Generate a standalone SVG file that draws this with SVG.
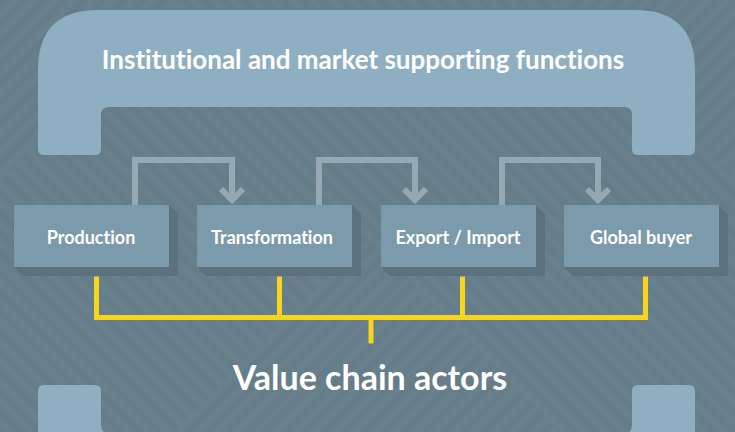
<svg xmlns="http://www.w3.org/2000/svg" width="735" height="432" viewBox="0 0 735 432">
  <defs>
    <!-- faint diagonal hatching for the backdrop -->
    <pattern id="hatchR" width="14" height="14" patternUnits="userSpaceOnUse" patternTransform="rotate(45)">
      <rect width="14" height="14" fill="#687f8c"/>
      <rect width="7" height="14" fill="#657c89"/>
    </pattern>
    <pattern id="hatchL" width="14" height="14" patternUnits="userSpaceOnUse" patternTransform="rotate(-45)">
      <rect width="14" height="14" fill="#687f8c"/>
      <rect width="7" height="14" fill="#657c89"/>
    </pattern>
    <style>
      .frame { fill: #8eafc2; }
      .box { fill: #7b9aab; }
      .box-shadow { fill: #5b717e; }
      .label { font-family: Lato, "Liberation Sans", sans-serif; font-weight: 700; fill: #ffffff; text-anchor: middle; font-variant-ligatures: none; font-feature-settings: "liga" 0; }
      .flow { fill: none; stroke: #96a8b2; stroke-width: 6; stroke-linejoin: miter; }
      .actor-link { fill: none; stroke: #f8d41a; stroke-width: 5; stroke-linecap: square; }
    </style>
  </defs>

  <!-- backdrop: chevron hatching -->
  <rect width="735" height="432" fill="url(#hatchR)"/>
  <polygon points="0,180 180,0 555,0 735,180 735,432 560,432 367,240 175,432 0,432" fill="url(#hatchL)"/>

  <!-- supporting functions frame (top) -->
  <g id="supporting-functions">
    <path class="frame" d="M38,155 L38,70 Q38,10 98,10 L635,10 Q695,10 695,70 L695,149 Q695,155 689,155 L638,155 Q632,155 632,149 L632,115 Q632,107 624,107 L109,107 Q101,107 101,115 L101,149 Q101,155 95,155 L44,155 Q38,155 38,149 Z"/>
    <text class="label" x="363" y="69" font-size="26">Institutional and market supporting functions</text>
  </g>

  <!-- lower frame, partly below the edge -->
  <g id="lower-frame">
    <path class="frame" d="M38,440 L38,391 Q38,385 44,385 L95,385 Q101,385 101,391 L101,425 Q101,433 109,433 L624,433 Q632,433 632,425 L632,391 Q632,385 638,385 L689,385 Q695,385 695,391 L695,440 Z"/>
  </g>

  <!-- flow connectors between actors -->
  <g id="connectors">
    <path class="flow" d="M135,205 L135,160 L232,160 L232,199"/>
    <polyline class="flow" points="221,189 232,200 243,189"/>
    <path class="flow" d="M319,205 L319,160 L415,160 L415,199"/>
    <polyline class="flow" points="404,189 415,200 426,189"/>
    <path class="flow" d="M502,205 L502,160 L598,160 L598,199"/>
    <polyline class="flow" points="587,189 598,200 609,189"/>

    <!-- bracket joining actors -->
    <path class="actor-link" d="M96.5,279 L96.5,317.5 L645.5,317.5 L645.5,279"/>
    <line class="actor-link" x1="279.5" y1="279" x2="279.5" y2="317"/>
    <line class="actor-link" x1="462.5" y1="279" x2="462.5" y2="317"/>
    <line class="actor-link" x1="371" y1="318" x2="371" y2="341"/>
  </g>

  <g id="production">
    <polygon class="box-shadow" points="169,205 178,214 178,276 23,276 14,267 169,267"/>
    <rect class="box" x="14" y="205" width="155" height="62"/>
    <text class="label" x="91" y="244" font-size="18">Production</text>
  </g>
  <g id="transformation">
    <polygon class="box-shadow" points="352,205 361,214 361,276 206,276 197,267 352,267"/>
    <rect class="box" x="197" y="205" width="155" height="62"/>
    <text class="label" x="272" y="244" font-size="18">Transformation</text>
  </g>
  <g id="export-import">
    <polygon class="box-shadow" points="536,205 545,214 545,276 390,276 381,267 536,267"/>
    <rect class="box" x="381" y="205" width="155" height="62"/>
    <text class="label" x="458" y="244" font-size="18">Export / Import</text>
  </g>
  <g id="global-buyer">
    <polygon class="box-shadow" points="719,205 728,214 728,276 573,276 564,267 719,267"/>
    <rect class="box" x="564" y="205" width="155" height="62"/>
    <text class="label" x="641" y="244" font-size="18">Global buyer</text>
  </g>

  <g id="value-chain-actors">
    <text class="label" x="370" y="390" font-size="34">Value chain actors</text>
  </g>
</svg>
